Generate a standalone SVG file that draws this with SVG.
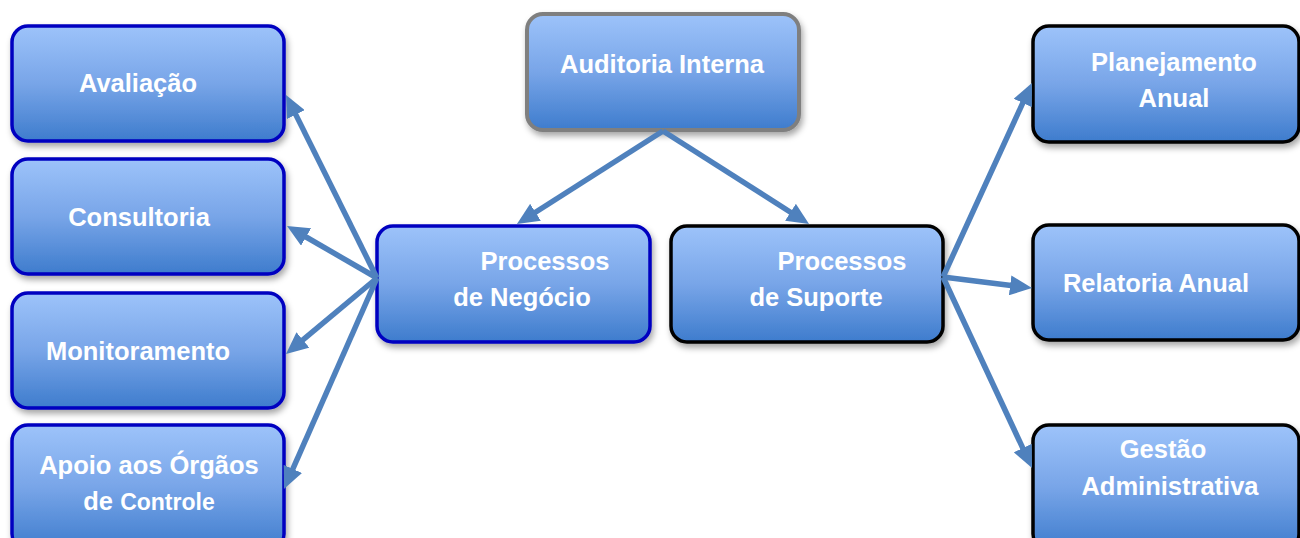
<svg xmlns="http://www.w3.org/2000/svg" width="1300" height="538" viewBox="0 0 1300 538">
  <defs>
    <linearGradient id="boxFill" x1="0" y1="0" x2="0" y2="1">
      <stop offset="0" stop-color="#9DC3FA"/>
      <stop offset="0.5" stop-color="#78A5E8"/>
      <stop offset="1" stop-color="#3E7CCD"/>
    </linearGradient>
    <filter id="shadow" x="-10%" y="-10%" width="125%" height="135%">
      <feDropShadow dx="2" dy="4" stdDeviation="3" flood-color="#000" flood-opacity="0.35"/>
    </filter>
    <marker id="arrow" markerUnits="userSpaceOnUse" viewBox="0 0 22 20" markerWidth="22" markerHeight="20" refX="7" refY="10" orient="auto">
      <path d="M0,0 L22,10 L0,20 z" fill="#4F81BD"/>
    </marker>
  </defs>
  <style>
    .box { fill: url(#boxFill); stroke-width: 3.5; filter: url(#shadow); }
    .blue { stroke: #0000C0; }
    .gray { stroke: #7F7F7F; stroke-width: 4; }
    .black { stroke: #000; }
    .label { font-family: "Liberation Sans", Arial, sans-serif; font-weight: bold; font-size: 25.5px; fill: #fff; text-anchor: middle; }
    .conn line { stroke: #4F81BD; stroke-width: 5.5; marker-end: url(#arrow); }
  </style>

  <!-- top node -->
  <g id="auditoria-interna">
    <rect class="box gray" x="527" y="14" width="272" height="116" rx="16"/>
    <text class="label" x="662" y="73">Auditoria Interna</text>
  </g>

  <!-- middle nodes -->
  <g id="processos-negocio">
    <rect class="box blue" x="377" y="226" width="273" height="116" rx="16"/>
    <text class="label" x="545" y="270">Processos</text>
    <text class="label" x="522" y="306">de Negócio</text>
  </g>
  <g id="processos-suporte">
    <rect class="box black" x="671" y="226" width="272" height="116" rx="16"/>
    <text class="label" x="842" y="270">Processos</text>
    <text class="label" x="816" y="306">de Suporte</text>
  </g>

  <!-- business process activities -->
  <g id="avaliacao">
    <rect class="box blue" x="12" y="26" width="272" height="115" rx="16"/>
    <text class="label" x="138" y="92">Avaliação</text>
  </g>
  <g id="consultoria">
    <rect class="box blue" x="12" y="159" width="272" height="115" rx="16"/>
    <text class="label" x="139" y="226">Consultoria</text>
  </g>
  <g id="monitoramento">
    <rect class="box blue" x="12" y="293" width="272" height="115" rx="16"/>
    <text class="label" x="138" y="360">Monitoramento</text>
  </g>
  <g id="apoio-orgaos-controle">
    <rect class="box blue" x="12" y="425" width="272" height="125" rx="16"/>
    <text class="label" x="149" y="474">Apoio aos Órgãos</text>
    <text class="label" x="149" y="510">de <tspan font-size="23">Controle</tspan></text>
  </g>

  <!-- support process activities -->
  <g id="planejamento-anual">
    <rect class="box black" x="1033" y="26" width="266" height="116" rx="16"/>
    <text class="label" x="1174" y="71">Planejamento</text>
    <text class="label" x="1174" y="107">Anual</text>
  </g>
  <g id="relatoria-anual">
    <rect class="box black" x="1033" y="225" width="266" height="115" rx="16"/>
    <text class="label" x="1156" y="292">Relatoria Anual</text>
  </g>
  <g id="gestao-administrativa">
    <rect class="box black" x="1033" y="425" width="266" height="125" rx="16"/>
    <text class="label" x="1163" y="458">Gestão</text>
    <text class="label" x="1170" y="495">Administrativa</text>
  </g>

  <!-- connectors -->
  <g id="connectors" class="conn">
    <line x1="663" y1="131" x2="529.6" y2="216"/>
    <line x1="663" y1="131" x2="796.4" y2="216"/>
    <line x1="377" y1="278" x2="292.7" y2="108.4"/>
    <line x1="377" y1="278" x2="300" y2="233.5"/>
    <line x1="377" y1="278" x2="297.5" y2="344.4"/>
    <line x1="377" y1="278" x2="290" y2="475.3"/>
    <line x1="943" y1="277" x2="1025.7" y2="96.6"/>
    <line x1="943" y1="277" x2="1017.1" y2="286.2"/>
    <line x1="943" y1="277" x2="1025.7" y2="454.4"/>
  </g>
</svg>
